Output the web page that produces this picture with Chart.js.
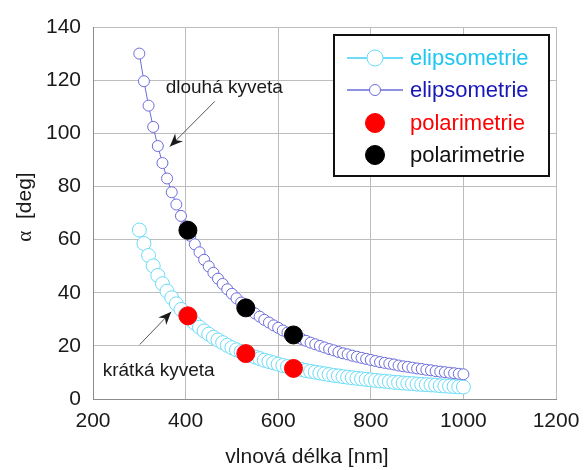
<!DOCTYPE html>
<html>
<head>
<meta charset="utf-8">
<script src="https://cdn.jsdelivr.net/npm/chart.js@4.4.1/dist/chart.umd.min.js"></script>
<style>
html,body{margin:0;padding:0;background:#fff;}
#wrap{width:584px;height:470px;}
</style>
</head>
<body>
<div id="wrap"><canvas id="alphaChart" width="584" height="470"></canvas></div>
<script>

// wavelength [nm] of the ellipsometry points
const wavelengths = [300,310,320,330,340,350,360,370,380,390,
    400,410,420,430,440,450,460,470,480,490,
    500,510,520,530,540,550,560,570,580,590,
    600,610,620,630,640,650,660,670,680,690,
    700,710,720,730,740,750,760,770,780,790,
    800,810,820,830,840,850,860,870,880,890,
    900,910,920,930,940,950,960,970,980,990,
    1000];

// short cuvette (cyan)
const shortCell = [63.6,58.5,54.0,50.1,46.5,43.4,40.6,38.1,35.8,33.7,
    31.8,30.0,28.5,27.0,25.6,24.4,23.2,22.2,21.2,20.2,
    19.3,18.5,17.8,17.1,16.4,15.8,15.2,14.6,14.1,13.6,
    13.1,12.6,12.2,11.8,11.4,11.1,10.7,10.4,10.1,9.8,
    9.5,9.2,8.9,8.7,8.4,8.2,8.0,7.8,7.6,7.4,
    7.2,7.0,6.8,6.7,6.5,6.3,6.2,6.0,5.9,5.8,
    5.6,5.5,5.4,5.3,5.2,5.0,4.9,4.8,4.7,4.6,
    4.5];

// long cuvette (blue)
const longCell = [130.0,119.6,110.4,102.4,95.2,88.8,83.0,77.8,73.2,68.9,
    65.0,61.4,58.2,55.2,52.4,49.9,47.5,45.3,43.3,41.3,
    39.6,37.9,36.3,34.9,33.5,32.2,31.0,29.8,28.8,27.7,
    26.8,25.8,25.0,24.1,23.4,22.6,21.9,21.2,20.6,20.0,
    19.4,18.8,18.3,17.7,17.2,16.8,16.3,15.9,15.5,15.1,
    14.7,14.3,13.9,13.6,13.3,13.0,12.6,12.3,12.1,11.8,
    11.5,11.3,11.0,10.8,10.5,10.3,10.1,9.9,9.7,9.5,
    9.3];

// polarimetry (laser lines)
const polWavelengths = [405, 530, 633];
const polShort = [31.3, 17.1, 11.5];
const polLong = [63.5, 34.3, 24.1];

const xTicks = [200, 400, 600, 800, 1000, 1200];
const yTicks = [0, 20, 40, 60, 80, 100, 120, 140];

const FONT = "'Liberation Sans', Arial, sans-serif";

function pts(xs, ys){
    return xs.map((x, i) => ({x: x, y: ys[i]}));
}

function arrow(ctx, x1, y1, x2, y2){
    ctx.save();
    ctx.strokeStyle = "#555";
    ctx.lineWidth = 1;
    ctx.beginPath();
    ctx.moveTo(x1, y1);
    ctx.lineTo(x2, y2);
    ctx.stroke();
    const a = Math.atan2(y2 - y1, x2 - x1);
    ctx.translate(x2, y2);
    ctx.rotate(a);
    ctx.fillStyle = "#1a1a1a";
    ctx.beginPath();
    ctx.moveTo(0, 0);
    ctx.lineTo(-13, -5.5);
    ctx.lineTo(-9, 0);
    ctx.lineTo(-13, 5.5);
    ctx.closePath();
    ctx.fill();
    ctx.restore();
}

const decor = {
    id: "decor",
    afterDatasetsDraw(chart){
        const ctx = chart.ctx;
        const xs = chart.scales.x;
        const ys = chart.scales.y;

        // annotations
        ctx.save();
        ctx.font = "19px " + FONT;
        ctx.fillStyle = "#1a1a1a";
        ctx.textBaseline = "middle";
        ctx.textAlign = "left";
        ctx.fillText("dlouhá kyveta", xs.getPixelForValue(357), ys.getPixelForValue(117));
        ctx.fillText("krátká kyveta", xs.getPixelForValue(221), ys.getPixelForValue(10.8));
        ctx.restore();
        arrow(ctx, xs.getPixelForValue(463), ys.getPixelForValue(112),
                   xs.getPixelForValue(366), ys.getPixelForValue(95));
        arrow(ctx, xs.getPixelForValue(301), ys.getPixelForValue(20.5),
                   xs.getPixelForValue(369), ys.getPixelForValue(32.8));

        // legend box
        const bx = 334, by = 35, bw = 215, bh = 141;
        ctx.save();
        ctx.fillStyle = "#fff";
        ctx.fillRect(bx, by, bw, bh);
        ctx.strokeStyle = "#111";
        ctx.lineWidth = 2;
        ctx.strokeRect(bx, by, bw, bh);
        const rows = [58, 90, 123, 155];
        chart.data.datasets.forEach((ds, i) => {
            const y = rows[i];
            if(ds.showLine){
                ctx.strokeStyle = ds.borderColor;
                ctx.lineWidth = 1.5;
                ctx.beginPath();
                ctx.moveTo(347, y);
                ctx.lineTo(403, y);
                ctx.stroke();
            }
            ctx.beginPath();
            ctx.arc(375, y, ds.legendRadius, 0, Math.PI * 2);
            ctx.fillStyle = ds.pointBackgroundColor;
            ctx.fill();
            ctx.lineWidth = 1;
            ctx.strokeStyle = ds.pointBorderColor;
            ctx.stroke();
            ctx.font = "22px " + FONT;
            ctx.fillStyle = ds.textColor;
            ctx.textAlign = "left";
            ctx.textBaseline = "middle";
            ctx.fillText(ds.label, 410, y + 1);
        });
        ctx.restore();

        // axis titles
        ctx.save();
        ctx.fillStyle = "#1a1a1a";
        ctx.font = "21px " + FONT;
        ctx.textAlign = "center";
        ctx.textBaseline = "middle";
        ctx.fillText("vlnová délka [nm]", 307, 457);
        ctx.translate(25, 207);
        ctx.rotate(-Math.PI / 2);
        ctx.textAlign = "left";
        ctx.font = "21px 'Liberation Serif', serif";
        const wA = ctx.measureText("α").width;
        ctx.font = "21px " + FONT;
        const wR = ctx.measureText("  [deg]").width;
        const start = -(wA + wR) / 2;
        ctx.font = "21px 'Liberation Serif', serif";
        ctx.fillText("α", start, 0);
        ctx.font = "21px " + FONT;
        ctx.fillText("  [deg]", start + wA, 0);
        ctx.restore();
    }
};

const ctx = document.getElementById("alphaChart").getContext("2d");

const chart = new Chart(ctx, {
    type: "scatter",
    data: {
        datasets: [{
            label: "elipsometrie",
            data: pts(wavelengths, shortCell),
            showLine: true,
            borderColor: "#3fd0f5",
            borderWidth: 1,
            pointRadius: 7,
            legendRadius: 8,
            pointBackgroundColor: "#ffffff",
            pointBorderColor: "#6adcf7",
            pointBorderWidth: 1,
            textColor: "#1ec6f2",
            order: 3
        }, {
            label: "elipsometrie",
            data: pts(wavelengths, longCell),
            showLine: true,
            borderColor: "#6b6bdc",
            borderWidth: 1,
            pointRadius: 5.5,
            legendRadius: 5.5,
            pointBackgroundColor: "#ffffff",
            pointBorderColor: "#6b6bdc",
            pointBorderWidth: 1,
            textColor: "#1818b8",
            order: 2
        }, {
            label: "polarimetrie",
            data: pts(polWavelengths, polShort),
            pointRadius: 9,
            legendRadius: 9.5,
            pointBackgroundColor: "#ff0000",
            pointBorderColor: "#ff0000",
            textColor: "#ff0000",
            order: 1
        }, {
            label: "polarimetrie",
            data: pts(polWavelengths, polLong),
            pointRadius: 9,
            legendRadius: 9.5,
            pointBackgroundColor: "#000000",
            pointBorderColor: "#000000",
            textColor: "#111111",
            order: 0
        }]
    },
    options: {
        responsive: false,
        animation: false,
        layout: {padding: {top: 27, right: 28, left: 0, bottom: 0}},
        plugins: {legend: {display: false}, tooltip: {enabled: false}},
        scales: {
            x: {
                type: "linear",
                min: xTicks[0],
                max: xTicks[xTicks.length - 1],
                afterBuildTicks: s => { s.ticks = xTicks.map(v => ({value: v})); },
                ticks: {color: "#1a1a1a", font: {family: FONT, size: 21}, padding: 10, maxRotation: 0,
                    callback: v => String(v)},
                grid: {color: "#bdbdbd", drawTicks: false},
                border: {color: "#8c8c8c"},
                afterFit: s => { s.height = 71; s.paddingLeft = 0; s.paddingRight = 0; }
            },
            y: {
                min: yTicks[0],
                max: yTicks[yTicks.length - 1],
                afterBuildTicks: s => { s.ticks = yTicks.map(v => ({value: v})); },
                ticks: {color: "#1a1a1a", font: {family: FONT, size: 21}, padding: 12,
                    callback: v => String(v)},
                grid: {color: "#bdbdbd", drawTicks: false},
                border: {color: "#8c8c8c"},
                afterFit: s => { s.width = 93; s.paddingTop = 0; s.paddingBottom = 0; }
            }
        }
    },
    plugins: [decor]
});
</script>
</body>
</html>
